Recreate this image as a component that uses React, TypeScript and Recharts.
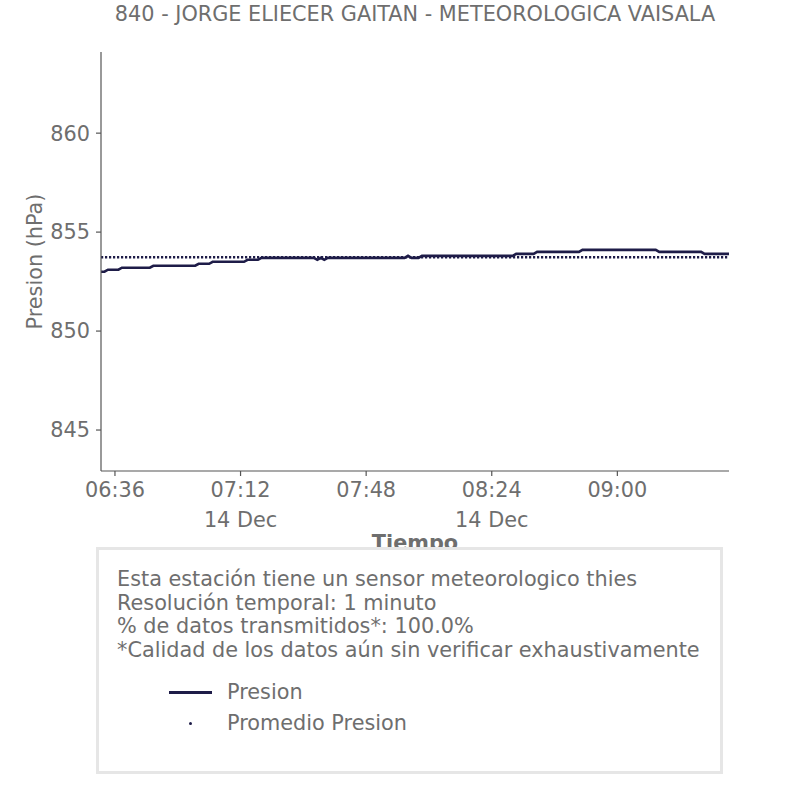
import React from 'react';
import { LineChart, Line, XAxis, YAxis, Legend } from 'recharts';

// minutes after 06:32 on 14 Dec, only where the pressure steps
const minutes = [0, 1, 2, 5, 6, 14, 15, 27, 28, 31, 32, 41, 42, 45, 46, 61, 62, 63, 64, 65, 87, 88, 89, 91, 92, 118, 119, 124, 125, 137, 138, 159, 160, 172, 173, 180];
const presion = [853.0, 853.0, 853.1, 853.1, 853.2, 853.2, 853.3, 853.3, 853.4, 853.4, 853.5, 853.5, 853.6, 853.6, 853.7, 853.7, 853.6, 853.7, 853.6, 853.7, 853.7, 853.8, 853.7, 853.7, 853.8, 853.8, 853.9, 853.9, 854.0, 854.0, 854.1, 854.1, 854.0, 854.0, 853.9, 853.9];
const promedio = 853.73;

const tickMinutes = [4, 40, 76, 112, 148];
const tickLabels = ['06:36', '07:12', '07:48', '08:24', '09:00'];
const dateLabels = ['', '14 Dec', '', '14 Dec', ''];
const yTicks = [845, 850, 855, 860];

const notes = [
  'Esta estación tiene un sensor meteorologico thies',
  'Resolución temporal: 1 minuto',
  '% de datos transmitidos*: 100.0%',
  '*Calidad de los datos aún sin verificar exhaustivamente',
];

const TEXT = '#6e6e6e';
const AXIS = '#555555';
const LINE = '#1e1c48';
const FONT = '"DejaVu Sans", sans-serif';
const FS = 20.8;

const data = minutes.map((m, i) => ({ t: m, presion: presion[i], promedio }));

const TimeTick = (props: any) => {
  const { x, y, payload } = props;
  const idx = tickMinutes.indexOf(payload.value);
  return (
    <g>
      <text x={x} y={y} dy={19} textAnchor="middle" fill={TEXT} fontSize={FS} fontFamily={FONT}>
        {tickLabels[idx]}
      </text>
      {dateLabels[idx] && (
        <text x={x} y={y} dy={49} textAnchor="middle" fill={TEXT} fontSize={FS} fontFamily={FONT}>
          {dateLabels[idx]}
        </text>
      )}
    </g>
  );
};

const YLabel = (props: any) => {
  const { viewBox } = props;
  const cx = viewBox.x + 35;
  const cy = viewBox.y + viewBox.height / 2;
  return (
    <text
      x={cx}
      y={cy}
      transform={`rotate(-90, ${cx}, ${cy})`}
      textAnchor="middle"
      dominantBaseline="central"
      fill={TEXT}
      fontSize={FS}
      fontFamily={FONT}
    >
      Presion (hPa)
    </text>
  );
};

const XLabel = (props: any) => {
  const { viewBox } = props;
  const cx = viewBox.x + viewBox.width / 2;
  return (
    <text x={cx} y={viewBox.y + viewBox.height + 19} textAnchor="middle" fill={TEXT} fontSize={FS} fontWeight="bold" fontFamily={FONT}>
      Tiempo
    </text>
  );
};

const InfoBox = (props: any) => {
  const { payload } = props;
  return (
    <div
      style={{
        boxSizing: 'border-box',
        width: 627,
        height: 227,
        border: '3px solid #e6e6e6',
        background: '#fff',
        fontFamily: FONT,
        fontSize: FS,
        color: TEXT,
        padding: '18px 0 0 18px',
      }}
    >
      {notes.map((n) => (
        <div key={n} style={{ lineHeight: '23.5px', whiteSpace: 'nowrap' }}>{n}</div>
      ))}
      <div style={{ marginTop: 15 }}>
        {(payload || []).map((entry: any) => (
          <div key={entry.value} style={{ display: 'flex', alignItems: 'center', height: 31 }}>
            <div style={{ width: 43, marginLeft: 52, marginRight: 15, display: 'flex', justifyContent: 'center' }}>
              {entry.value === 'Presion' ? (
                <div style={{ width: 43, height: 2.6, background: LINE }} />
              ) : (
                <div style={{ width: 3, height: 3, borderRadius: 2, background: LINE }} />
              )}
            </div>
            <span style={{ lineHeight: '31px' }}>{entry.value}</span>
          </div>
        ))}
      </div>
    </div>
  );
};

export default function App() {
  return (
    <div style={{ position: 'absolute', left: 0, top: 0, width: 806, height: 806, background: '#fff' }}>
      <div
        style={{
          position: 'absolute',
          left: 101,
          top: 3,
          width: 628,
          textAlign: 'center',
          fontFamily: FONT,
          fontSize: FS,
          lineHeight: '22px',
          color: TEXT,
          zIndex: 2,
          whiteSpace: 'nowrap',
        }}
      >
        840 - JORGE ELIECER GAITAN - METEOROLOGICA VAISALA
      </div>
      <LineChart width={806} height={806} data={data} margin={{ top: 52, right: 77, left: 0, bottom: 275 }}>
        <XAxis
          dataKey="t"
          type="number"
          domain={[0, 180]}
          ticks={tickMinutes}
          tick={<TimeTick />}
          tickSize={5}
          height={60}
          stroke={AXIS}
          strokeWidth={1.2}
          label={<XLabel />}
          allowDataOverflow
        />
        <YAxis
          type="number"
          domain={[842.93, 864.1]}
          ticks={yTicks}
          width={101}
          tickSize={5}
          tickMargin={6}
          stroke={AXIS}
          strokeWidth={1.2}
          tick={{ fill: TEXT, fontSize: FS, fontFamily: FONT }}
          label={<YLabel />}
          allowDataOverflow
        />
        <Line
          dataKey="presion"
          name="Presion"
          type="linear"
          stroke={LINE}
          strokeWidth={2.6}
          dot={false}
          isAnimationActive={false}
        />
        <Line
          dataKey="promedio"
          name="Promedio Presion"
          type="linear"
          stroke={LINE}
          strokeWidth={2.5}
          strokeDasharray="2.2 1.8"
          dot={false}
          isAnimationActive={false}
        />
        <Legend
          verticalAlign="middle"
          layout="horizontal"
          content={<InfoBox />}
          wrapperStyle={{ position: 'absolute', left: 96, top: 547, width: 627, height: 227 }}
        />
      </LineChart>
    </div>
  );
}
